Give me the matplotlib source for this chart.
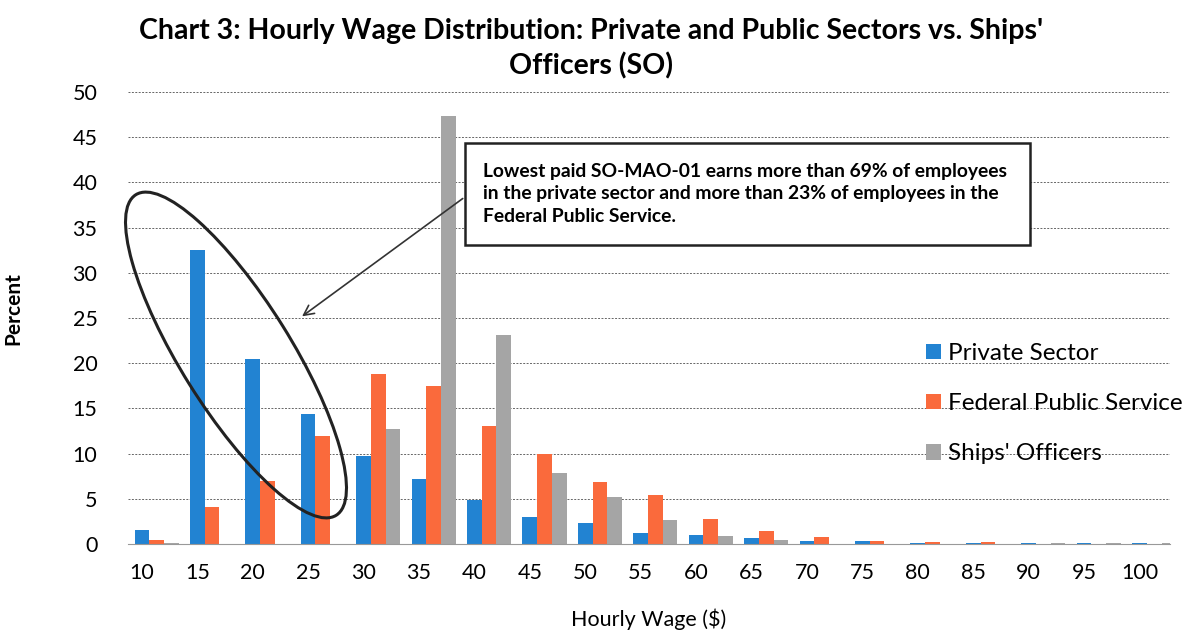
import numpy as np
import matplotlib
matplotlib.use("Agg")
import matplotlib.pyplot as plt
from matplotlib.patches import Ellipse, Rectangle

plt.rcParams['font.family'] = ['Lato', 'DejaVu Sans']

wages = ['10', '15', '20', '25', '30', '35', '40', '45', '50', '55',
         '60', '65', '70', '75', '80', '85', '90', '95', '100']
private = [1.6, 32.5, 20.5, 14.4, 9.7, 7.2, 4.9, 3.0, 2.3, 1.2,
           1.0, 0.7, 0.3, 0.3, 0.1, 0.1, 0.1, 0.1, 0.1]
federal = [0.4, 4.1, 7.0, 12.0, 18.8, 17.5, 13.0, 10.0, 6.9, 5.4,
           2.8, 1.4, 0.8, 0.3, 0.2, 0.2, 0.05, 0.05, 0.05]
ships = [0.1, 0.0, 0.0, 0.0, 12.7, 47.4, 23.1, 7.9, 5.2, 2.7,
         0.9, 0.4, 0.0, 0.0, 0.0, 0.0, 0.1, 0.1, 0.1]
series_names = ['Private Sector', 'Federal Public Service', "Ships' Officers"]
colors = ['#2283D2', '#FA6A3C', '#A5A5A5']

fig = plt.figure(figsize=(11.82, 6.3), dpi=100)
ax = fig.add_axes([128/1182, 86/630, (1170-128)/1182, (544-92)/630])

x = np.arange(len(wages))
w = 0.265
for k, (vals, name, c) in enumerate(zip([private, federal, ships], series_names, colors)):
    ax.bar(x + k*w, vals, width=w, color=c, label=name, zorder=2)

ax.set_xlim(-0.25, 18.55)
ax.set_ylim(0, 50)
ax.set_yticks(range(0, 51, 5))
ax.set_xticks(x)
ax.set_xticklabels(wages)
ax.tick_params(axis='both', length=0, labelsize=15.5)
ax.tick_params(axis='x', pad=14)
ax.tick_params(axis='y', pad=22)
ax.yaxis.grid(True, linestyle=(0, (2, 1.5)), color='#666666', linewidth=0.7, zorder=0)
for s in ['top', 'right', 'left']:
    ax.spines[s].set_visible(False)
ax.spines['bottom'].set_color('#999999')
ax.set_axisbelow(True)

ax.set_xlabel('Hourly Wage ($)', fontsize=15.5, labelpad=18)
ax.set_ylabel('Percent', fontsize=15, fontweight='bold')
ax.yaxis.set_label_coords(-0.1, 0.52)

fig.suptitle("Chart 3: Hourly Wage Distribution: Private and Public Sectors vs. Ships'\nOfficers (SO)",
             fontsize=20.5, fontweight='bold', x=0.5, y=0.972, linespacing=1.4)

leg = ax.legend(loc='upper left', bbox_to_anchor=(0.745, 0.493), frameon=False,
                fontsize=17.5, handlelength=0.6, handleheight=0.6, handletextpad=0.3,
                labelspacing=1.2)

# annotation box and arrow
ax.add_patch(Rectangle((5.83, 33.1), 10.2, 11.3, fill=True, facecolor='white',
                       edgecolor='#222222', linewidth=1.8, zorder=4))
ax.text(6.15, 38.75,
        "Lowest paid SO-MAO-01 earns more than 69% of employees\n"
        "in the private sector and more than 23% of employees in the\n"
        "Federal Public Service.",
        fontsize=13.9, fontweight='bold', va='center', ha='left', linespacing=1.4, zorder=5)
ax.annotate('', xy=(2.85, 25.0), xytext=(5.83, 38.4),
            arrowprops=dict(arrowstyle='->', color='#333333', lw=1.2,
                            mutation_scale=18), zorder=5)

ell = Ellipse((2.36, 6.30 - 3.55), width=3.78, height=1.1, angle=-58,
              transform=fig.dpi_scale_trans, fill=False, edgecolor='#222222', linewidth=2.2, zorder=6)
fig.patches.append(ell)

fig.savefig('out.png', dpi=100)
